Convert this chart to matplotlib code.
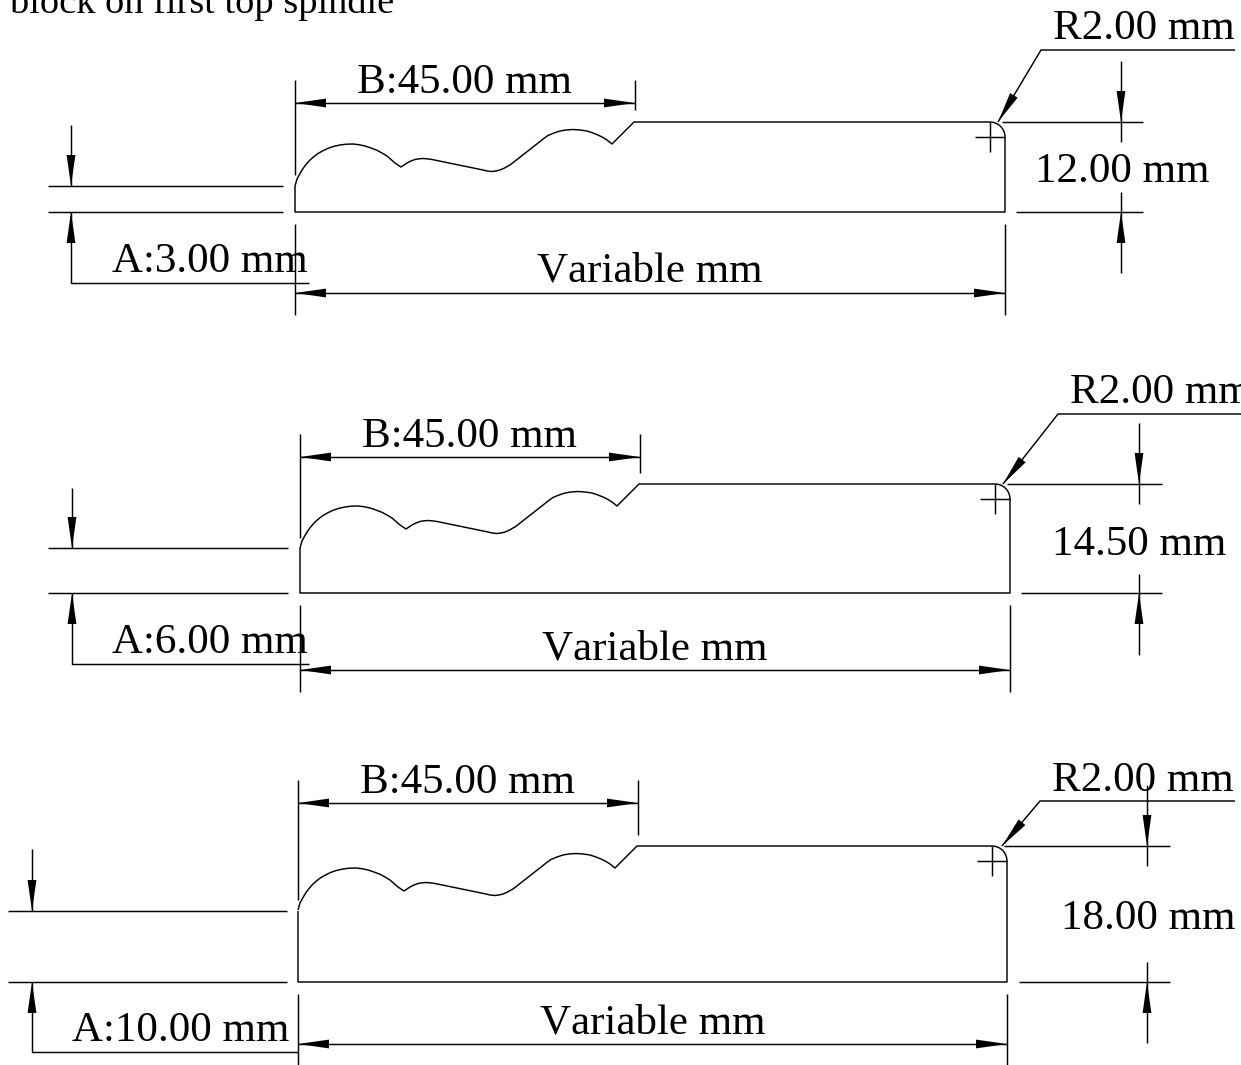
import matplotlib
matplotlib.use("Agg")
import matplotlib.pyplot as plt
import numpy as np

plt.rcParams['font.family'] = ['Liberation Serif', 'DejaVu Serif']
plt.rcParams['text.kerning_factor'] = 6

# title line, cut off by the top of the page
title = "block on first top spindle"

# one entry per drawing, top to bottom
a_labels = ["A:3.00 mm", "A:6.00 mm", "A:10.00 mm"]
b_labels = ["B:45.00 mm", "B:45.00 mm", "B:45.00 mm"]
h_labels = ["12.00 mm", "14.50 mm", "18.00 mm"]
r_labels = ["R2.00 mm", "R2.00 mm", "R2.00 mm"]
var_labels = ["Variable mm", "Variable mm", "Variable mm"]

# part outline, in page pixels
left = [295, 300, 298]
right = [1005, 1010, 1007]
top = [122, 484, 846]
bottom = [212, 593, 982]
step = [186, 548, 911]

# dimension positions
a_x = [71, 72, 32]
a_ext_start = [48, 48, 8]
a_ext_end = [283, 288, 287]
a_arrow_top = [125, 488, 849]
a_leader_y = [283, 664, 1052]
a_leader_end = [309, 309, 298]
b_y = [103, 457, 803]
b_x = [635, 640, 638]
b_ext_top = [80, 434, 780]
b_ext_end = [110, 473, 835]
left_ext_end = [175, 538, 900]
low_ext_top = [224, 605, 994]
low_ext_end = [315, 692, 1066]
var_y = [293, 670, 1044]
h_x = [1121, 1139, 1147]
h_ext_end = [1143, 1162, 1170]
h_ext_start = [1016, 1021, 1019]
h_up_top = [61, 423, 785]
h_up_end = [142, 504, 866]
h_low_top = [192, 574, 962]
h_low_end = [273, 655, 1043]
lead_tip = [(998, 122), (1003, 484), (1002, 846)]
lead_knee = [(1041, 50), (1058, 414), (1040, 801)]
lead_end = [1235, 1241, 1235]

# text anchors (left, baseline)
a_text = [(112, 272), (112, 653), (72, 1041)]
b_text = [(357, 93), (362, 447), (360, 793)]
var_text = [(537, 282), (542, 659), (540, 1034)]
r_text = [(1053, 39), (1070, 403), (1052, 791)]
h_text = [(1035, 182), (1052, 555), (1061, 929)]

# moulding profile: offset from left edge, offset below top line
profile_dx = [0, 2, 5, 8, 11, 15, 19, 23, 28, 33, 39, 45, 51, 58, 64, 70, 76, 82, 87, 92,
              96, 100, 106, 109, 112, 116, 120, 124, 128, 132, 137, 188, 192, 197, 201,
              205, 209, 213, 215, 245, 249, 253, 259, 265, 271, 278, 285, 292, 298, 303,
              308, 312, 317, 339]
profile_dy = [64, 57, 51.5, 46.5, 42.5, 38, 34.5, 31.5, 28.7, 26.3, 24.3, 23, 22.2, 22, 22.7,
              24, 26, 28.3, 31, 34, 37.5, 41, 45, 43, 41, 39, 37.5, 36.8, 36.5, 36.8, 37.5,
              48, 49, 49.5, 49, 48, 46.3, 44, 43, 19.5, 16.3, 13.5, 11, 9, 8, 7.5, 8, 9, 11,
              13, 15.5, 18, 22, 0]

corner_r = 15
head_len = 31
head_w = 4.4
LW = 1.05


def arrow_head(ax, tip, frm):
    # slim filled head, tip at "tip", pointing away from "frm"
    tip = np.array(tip, dtype=float)
    d = tip - np.array(frm, dtype=float)
    d = d / np.hypot(d[0], d[1])
    n = np.array([-d[1], d[0]])
    base = tip - d * head_len
    pts = np.array([tip, base + n * head_w, base - n * head_w])
    ax.fill(pts[:, 0], pts[:, 1], color='black', lw=0)


def line(ax, xs, ys):
    ax.plot(xs, ys, color='black', lw=LW, solid_capstyle='butt')


fig = plt.figure(figsize=(12.41, 10.65), dpi=100)
ax = fig.add_axes([0, 0, 1, 1])
ax.set_xlim(0, 1241)
ax.set_ylim(1065, 0)
ax.axis('off')

ax.text(10, 13, title, fontsize=27.6, va='baseline', ha='left')

for i in range(3):
    # part outline
    xs = [left[i] + dx for dx in profile_dx]
    ys = [top[i] + dy for dy in profile_dy]
    t = np.linspace(np.pi / 2, 0, 12)
    xs += list(right[i] - corner_r + corner_r * np.cos(t))
    ys += list(top[i] + corner_r - corner_r * np.sin(t))
    xs += [right[i], left[i], left[i]]
    ys += [bottom[i], bottom[i], step[i]]
    line(ax, xs, ys)

    # corner centre mark
    cx = right[i] - corner_r
    cy = top[i] + corner_r
    line(ax, [cx - 15, cx + 15], [cy, cy])
    line(ax, [cx, cx], [cy - 15, cy + 15])

    # dimension A
    line(ax, [a_ext_start[i], a_ext_end[i]], [step[i], step[i]])
    line(ax, [a_ext_start[i], a_ext_end[i]], [bottom[i], bottom[i]])
    line(ax, [a_x[i], a_x[i]], [a_arrow_top[i], step[i]])
    arrow_head(ax, (a_x[i], step[i]), (a_x[i], a_arrow_top[i]))
    line(ax, [a_x[i], a_x[i], a_leader_end[i]], [bottom[i], a_leader_y[i], a_leader_y[i]])
    arrow_head(ax, (a_x[i], bottom[i]), (a_x[i], a_leader_y[i]))

    # dimension B
    line(ax, [left[i], left[i]], [b_ext_top[i], left_ext_end[i]])
    line(ax, [b_x[i], b_x[i]], [b_ext_top[i], b_ext_end[i]])
    line(ax, [left[i], b_x[i]], [b_y[i], b_y[i]])
    arrow_head(ax, (left[i], b_y[i]), (b_x[i], b_y[i]))
    arrow_head(ax, (b_x[i], b_y[i]), (left[i], b_y[i]))

    # variable length
    line(ax, [left[i], left[i]], [low_ext_top[i], low_ext_end[i]])
    line(ax, [right[i], right[i]], [low_ext_top[i], low_ext_end[i]])
    line(ax, [left[i], right[i]], [var_y[i], var_y[i]])
    arrow_head(ax, (left[i], var_y[i]), (right[i], var_y[i]))
    arrow_head(ax, (right[i], var_y[i]), (left[i], var_y[i]))

    # height
    line(ax, [right[i] - 3, h_ext_end[i]], [top[i], top[i]])
    line(ax, [h_ext_start[i], h_ext_end[i]], [bottom[i], bottom[i]])
    line(ax, [h_x[i], h_x[i]], [h_up_top[i], h_up_end[i]])
    arrow_head(ax, (h_x[i], top[i]), (h_x[i], h_up_top[i]))
    line(ax, [h_x[i], h_x[i]], [h_low_top[i], h_low_end[i]])
    arrow_head(ax, (h_x[i], bottom[i]), (h_x[i], h_low_end[i]))

    # radius leader
    line(ax, [lead_tip[i][0], lead_knee[i][0], lead_end[i]],
         [lead_tip[i][1], lead_knee[i][1], lead_knee[i][1]])
    arrow_head(ax, lead_tip[i], lead_knee[i])

    # labels
    for txt, pos in [(a_labels[i], a_text[i]), (b_labels[i], b_text[i]),
                     (var_labels[i], var_text[i]), (r_labels[i], r_text[i]),
                     (h_labels[i], h_text[i])]:
        ax.text(pos[0], pos[1], txt, fontsize=31, va='baseline', ha='left')

fig.savefig("out.png", dpi=100)
